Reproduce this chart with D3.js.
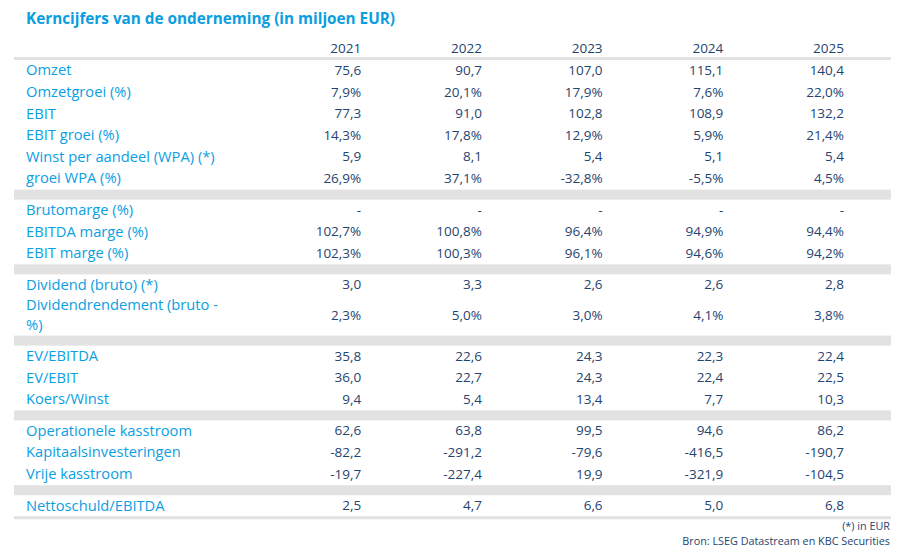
<!DOCTYPE html>
<html lang="nl">
  <head>
    <meta charset="utf-8">
    <title>Kerncijfers van de onderneming</title>
    <script src="https://d3js.org/d3.v7.min.js"></script>
    <style>
      body { margin: 0; background: #fff; }
      svg { display: block; font-family: "Open Sans", sans-serif; }
      .title { font-size: 15.3px; font-weight: bold; fill: #0a9de0; }
      .year { font-size: 13.5px; fill: #1f4470; }
      .label { font-size: 14.7px; fill: #0aa0e3; }
      .value { font-size: 13.5px; fill: #1f4470; }
      .note { font-size: 10.8px; fill: #1f4470; }
    </style>
  </head>
  <body>
    <svg width="902" height="560" id="svg1"></svg>
    <script>

      const width = 902;
      const height = 560;

      const years = ["2021", "2022", "2023", "2024", "2025"];

      // block 1
      const omzet = [75.6, 90.7, 107.0, 115.1, 140.4];
      const omzetgroei = [7.9, 20.1, 17.9, 7.6, 22.0];
      const ebit = [77.3, 91.0, 102.8, 108.9, 132.2];
      const ebitGroei = [14.3, 17.8, 12.9, 5.9, 21.4];
      const wpa = [5.9, 8.1, 5.4, 5.1, 5.4];
      const groeiWpa = [26.9, 37.1, -32.8, -5.5, 4.5];
      // block 2
      const brutomarge = [null, null, null, null, null];
      const ebitdaMarge = [102.7, 100.8, 96.4, 94.9, 94.4];
      const ebitMarge = [102.3, 100.3, 96.1, 94.6, 94.2];
      // block 3
      const dividend = [3.0, 3.3, 2.6, 2.6, 2.8];
      const dividendrendement = [2.3, 5.0, 3.0, 4.1, 3.8];
      // block 4
      const evEbitda = [35.8, 22.6, 24.3, 22.3, 22.4];
      const evEbit = [36.0, 22.7, 24.3, 22.4, 22.5];
      const koersWinst = [9.4, 5.4, 13.4, 7.7, 10.3];
      // block 5
      const opKasstroom = [62.6, 63.8, 99.5, 94.6, 86.2];
      const kapitaal = [-82.2, -291.2, -79.6, -416.5, -190.7];
      const vrijeKasstroom = [-19.7, -227.4, 19.9, -321.9, -104.5];
      // block 6
      const nettoschuld = [2.5, 4.7, 6.6, 5.0, 6.8];

      const blocks = [
        [
          {label: ["Omzet"], values: omzet},
          {label: ["Omzetgroei (%)"], values: omzetgroei, pct: true},
          {label: ["EBIT"], values: ebit},
          {label: ["EBIT groei (%)"], values: ebitGroei, pct: true},
          {label: ["Winst per aandeel (WPA) (*)"], values: wpa},
          {label: ["groei WPA (%)"], values: groeiWpa, pct: true}
        ],
        [
          {label: ["Brutomarge (%)"], values: brutomarge, pct: true},
          {label: ["EBITDA marge (%)"], values: ebitdaMarge, pct: true},
          {label: ["EBIT marge (%)"], values: ebitMarge, pct: true}
        ],
        [
          {label: ["Dividend (bruto) (*)"], values: dividend},
          {label: ["Dividendrendement (bruto -", "%)"], values: dividendrendement, pct: true}
        ],
        [
          {label: ["EV/EBITDA"], values: evEbitda},
          {label: ["EV/EBIT"], values: evEbit},
          {label: ["Koers/Winst"], values: koersWinst}
        ],
        [
          {label: ["Operationele kasstroom"], values: opKasstroom},
          {label: ["Kapitaalsinvesteringen"], values: kapitaal},
          {label: ["Vrije kasstroom"], values: vrijeKasstroom}
        ],
        [
          {label: ["Nettoschuld/EBITDA"], values: nettoschuld}
        ]
      ];

      const nl = d3.formatLocale({decimal: ",", thousands: ".", grouping: [3], currency: ["€", ""], minus: "-"});
      const fmt = nl.format(".1f");
      const cell = (v, pct) => v == null ? "-" : fmt(v) + (pct ? "%" : "");

      // layout in row units: one row = 1, extra wrapped line and separator band relative to it
      const rowH = 21.6;
      const extraLine = 18;   // height a wrapped line adds to its row
      const lineGap = 20;     // baseline distance between wrapped label lines
      const bandUnits = 10 / rowH;
      const lineUnits = extraLine / rowH;
      const rows = [];
      const bands = [];
      let u = 0;
      blocks.forEach((block, bi) => {
        block.forEach(r => {
          const h = 1 + (r.label.length - 1) * lineUnits;
          rows.push(Object.assign({}, r, {u0: u, u1: u + h}));
          u += h;
        });
        if (bi < blocks.length - 1) {
          bands.push({u0: u, u1: u + bandUnits});
          u += bandUnits;
        }
      });
      const totalUnits = u;

      const tableLeft = 14;
      const tableRight = 891;
      const tableTop = 60;

      const yScale = d3.scaleLinear()
          .domain([0, totalUnits])
          .range([tableTop, tableTop + totalUnits * rowH]);

      const xScale = d3.scaleBand()
          .domain(years)
          .range([240.5, 844]);

      const svg = d3.select("#svg1");

      svg.append("text")
          .attr("class", "title")
          .attr("x", 26)
          .attr("y", 23.5)
          .text("Kerncijfers van de onderneming (in miljoen EUR)");

      // header years
      svg.selectAll("text.year")
          .data(years)
          .enter()
          .append("text")
          .attr("class", "year")
          .attr("text-anchor", "end")
          .attr("x", d => xScale(d) + xScale.bandwidth())
          .attr("y", 52.5)
          .text(d => d);

      const gray = "#e2e2e2";

      // rule under header
      svg.append("rect")
          .attr("x", tableLeft)
          .attr("y", yScale(0) - 3)
          .attr("width", tableRight - tableLeft)
          .attr("height", 3)
          .attr("fill", gray);

      // separator bands
      svg.selectAll("rect.band")
          .data(bands)
          .enter()
          .append("rect")
          .attr("class", "band")
          .attr("x", tableLeft)
          .attr("y", d => yScale(d.u0))
          .attr("width", tableRight - tableLeft)
          .attr("height", d => yScale(d.u1) - yScale(d.u0))
          .attr("fill", gray);

      // bottom rule
      svg.append("rect")
          .attr("x", tableLeft)
          .attr("y", yScale(totalUnits) - 0.6)
          .attr("width", tableRight - tableLeft)
          .attr("height", 3)
          .attr("fill", gray);

      const row = svg.selectAll("g.row")
          .data(rows)
          .enter()
          .append("g")
          .attr("class", "row");

      row.each(function(d) {
        const g = d3.select(this);
        const mid = (yScale(d.u0) + yScale(d.u1)) / 2 - 0.6;
        const n = d.label.length;

        // one text per label, wrapped lines as tspans
        g.append("text")
            .attr("class", "label")
            .attr("y", mid - (n - 1) / 2 * lineGap)
            .selectAll("tspan")
            .data(d.label)
            .enter()
            .append("tspan")
            .attr("x", 26)
            .attr("dy", (t, i) => i === 0 ? "0.35em" : lineGap)
            .text(t => t);

        g.selectAll("text.value")
            .data(d.values.map((v, i) => ({year: years[i], v: v, pct: d.pct})))
            .enter()
            .append("text")
            .attr("class", "value")
            .attr("text-anchor", "end")
            .attr("x", c => xScale(c.year) + xScale.bandwidth())
            .attr("y", mid)
            .attr("dy", "0.35em")
            .text(c => cell(c.v, c.pct));
      });

      svg.append("text")
          .attr("class", "note")
          .attr("text-anchor", "end")
          .attr("x", 890)
          .attr("y", 530)
          .text("(*) in EUR");

      svg.append("text")
          .attr("class", "note")
          .attr("text-anchor", "end")
          .attr("x", 890)
          .attr("y", 545)
          .text("Bron: LSEG Datastream en KBC Securities");

    </script>
  </body>
</html>
